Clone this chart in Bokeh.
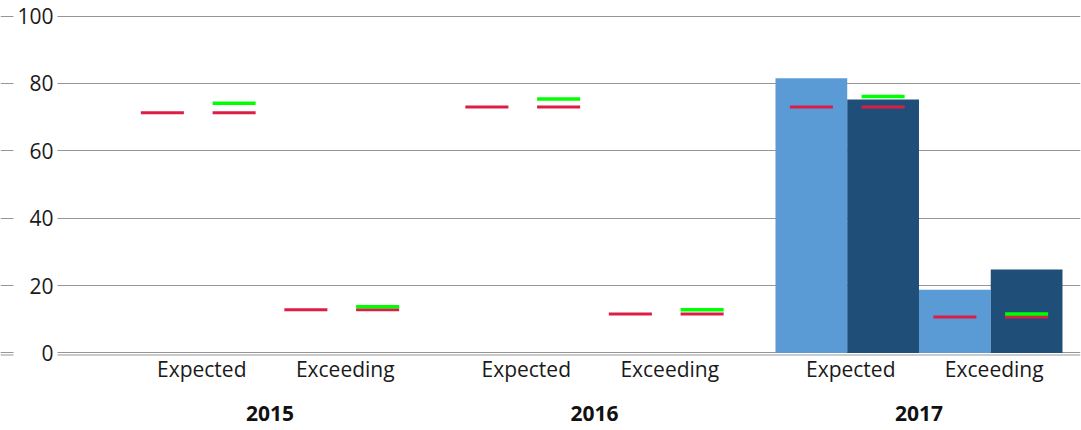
from bokeh.plotting import figure
from bokeh.models import Range1d, FixedTicker, Span
from bokeh.core.properties import value
from bokeh.embed import file_html
from bokeh.resources import INLINE

# ---------------- data ----------------
years = ["2015", "2016", "2017"]
levels = ["Expected", "Exceeding"]
# one value per (year, level): 2015-Expected, 2015-Exceeding, 2016-Expected, ...
light_bar = [None, None, None, None, 81.5, 18.8]
dark_bar = [None, None, None, None, 75.2, 24.8]
light_red = [71.3, 12.8, 73.0, 11.6, 73.0, 10.7]
dark_red = [71.3, 12.8, 73.0, 11.6, 73.0, 10.7]
dark_green = [74.1, 13.7, 75.4, 12.8, 76.1, 11.6]
y_ticks = [0, 20, 40, 60, 80, 100]
y_labels = [str(t) for t in y_ticks]

# ---------------- layout constants ----------------
GROUP_STRIDE = 2.2613   # distance between year groups (in level-slot units)
BAR_W = 0.5
MARK_W = 0.3
PX_X = 143.5            # pixels per level slot
PX_Y = 3.37             # pixels per y unit
X0, X1 = -1.8780, 5.6481
LIGHT = "#5B9BD5"
DARK = "#1F4E79"
RED = "#DC1E46"
GREEN = "#00FF00"
GRID = "#969696"
TEXT = "#1a1a1a"
FONT = "Open Sans"
FS = "21px"

group_x = [g * GROUP_STRIDE for g in range(len(years))]
sub_x = [gx + (s - 0.5) for gx in group_x for s in range(len(levels))]
light_x = [x - BAR_W / 2 for x in sub_x]
dark_x = [x + BAR_W / 2 for x in sub_x]

p = figure(width=1081, height=430,
           x_range=Range1d(X0, X1), y_range=Range1d(-23.0, 104.6),
           x_axis_location=None, y_axis_location=None,
           output_backend="svg", toolbar_location=None,
           min_border_left=0, min_border_right=1, min_border_top=0, min_border_bottom=0)
p.outline_line_color = None
p.background_fill_color = "white"
p.border_fill_color = "white"

# grid
p.xgrid.visible = False
p.ygrid.ticker = FixedTicker(ticks=y_ticks)
p.ygrid.grid_line_color = GRID
p.ygrid.grid_line_width = 1

# second zero line (double base line)
p.add_layout(Span(location=-2 / PX_Y, dimension="width", line_color=GRID,
                  line_width=1, level="underlay"))

# y tick labels drawn over the grid on white boxes
p.rect(x=[X0 + 35 / PX_X] * len(y_ticks), y=y_ticks, width=44, height=20,
       width_units="screen", height_units="screen", fill_color="white", line_color=None)
p.text(x=[X0] * len(y_ticks), y=y_ticks, text=y_labels, x_offset=53,
       text_align="right", text_baseline="middle",
       text_font=value(FONT), text_font_size=FS, text_color=TEXT)

# bars
lb = [(x, v) for x, v in zip(light_x, light_bar) if v is not None]
db = [(x, v) for x, v in zip(dark_x, dark_bar) if v is not None]
p.vbar(x=[a for a, _ in lb], top=[b for _, b in lb], bottom=0, width=BAR_W,
       fill_color=LIGHT, line_color=None)
p.vbar(x=[a for a, _ in db], top=[b for _, b in db], bottom=0, width=BAR_W,
       fill_color=DARK, line_color=None)

# markers
p.rect(x=light_x, y=light_red, width=MARK_W, height=3, height_units="screen",
       fill_color=RED, line_color=None)
p.rect(x=dark_x, y=dark_red, width=MARK_W, height=3, height_units="screen",
       fill_color=RED, line_color=None)
p.rect(x=dark_x, y=dark_green, width=MARK_W, height=3.5, height_units="screen",
       fill_color=GREEN, line_color=None)

# category labels
p.text(x=sub_x, y=[0] * len(sub_x), text=levels * len(years),
       text_align="center", text_baseline="alphabetic", x_offset=3.5, y_offset=16.5,
       text_font=value(FONT), text_font_size=FS, text_color=TEXT)
p.text(x=group_x, y=[0] * len(group_x), text=years,
       text_align="center", text_baseline="alphabetic", y_offset=61,
       text_font=value(FONT), text_font_size=FS, text_font_style="bold",
       text_color="#111111")

open("out.html", "w").write(file_html(p, INLINE))
